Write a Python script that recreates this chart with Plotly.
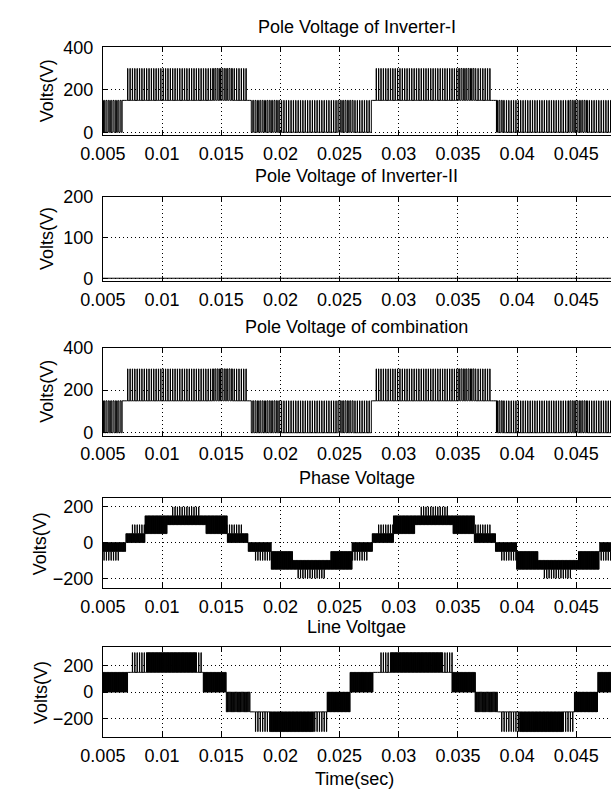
import math
import plotly.graph_objects as go

W, H = 611, 796
FONT = "Liberation Sans, Arial, sans-serif"
FS = 18

# ---------------- data ----------------
carrier_period = 0.0002            # s, spacing of the PWM carrier periods

x_range = [0.005, 0.04793]
x_tick_vals = [0.005, 0.01, 0.015, 0.02, 0.025, 0.03, 0.035, 0.04, 0.045]
x_tick_text = ["0.005", "0.01", "0.015", "0.02", "0.025", "0.03", "0.035", "0.04", "0.045"]

panel_titles = ["Pole Voltage of Inverter-I", "Pole Voltage of Inverter-II",
                "Pole Voltage of combination", "Phase Voltage", "Line Voltgae"]
y_label = "Volts(V)"
x_label = "Time(sec)"

y_ranges = [[-14, 400], [-7, 200], [-14, 400], [-257, 248], [-342, 342]]
y_tick_vals = [[0, 200, 400], [0, 100, 200], [0, 200, 400], [-200, 0, 200], [-200, 0, 200]]

# Pole voltage of inverter-I: segment boundaries, resting level, pulse level, duty
pole1_edges = [0.00500, 0.00663, 0.00695, 0.01427, 0.01600, 0.01720, 0.01752, 0.02000,
               0.02480, 0.02620, 0.02768, 0.02809, 0.03500, 0.03650, 0.03785, 0.03825,
               0.03890, 0.04430, 0.04600, 0.04793]
pole1_base = [0, 150, 150, 150, 150, 150, 0, 0, 0, 0, 150, 150, 150, 150, 150, 0, 0, 0, 0]
pole1_level = [150, 150, 300, 300, 300, 150, 150, 150, 150, 150, 150, 300, 300, 300, 150,
               150, 150, 150, 150]
pole1_duty = [0.45, 0.0, 0.12, 0.4, 0.12, 0.0, 0.4, 0.12, 0.4, 0.12, 0.0, 0.12, 0.4, 0.12,
              0.0, 0.4, 0.12, 0.4, 0.12]

# Pole voltage of inverter-II (flat at zero)
inv2_time = [0.005, 0.04793]
inv2_volts = [0, 0]

# Phase voltage: resting level, band level/duty, spike level/duty, pulses per carrier period
phase_edges = [0.00500, 0.00638, 0.00695, 0.00736, 0.00858, 0.01045, 0.01085, 0.01329,
               0.01370, 0.01549, 0.01687, 0.01728, 0.01776, 0.01923, 0.02102, 0.02142,
               0.02386, 0.02427, 0.02606, 0.02736, 0.02776, 0.02817, 0.02955, 0.03134,
               0.03175, 0.03419, 0.03459, 0.03638, 0.03779, 0.03817, 0.03858, 0.03996,
               0.04175, 0.04216, 0.04467, 0.04516, 0.04695, 0.04793]
phase_base = [0, 0, 0, 0, 50, 100, 100, 100, 50, 0, 0, 0, 0, -50, -100, -100, -100, -50,
              0, 0, 0, 0, 50, 100, 100, 100, 50, 0, 0, 0, 0, -50, -100, -100, -100, -50, 0]
phase_level1 = [-50, -50, 50, 50, 150, 150, 150, 150, 150, 50, 50, -50, -50, -150, -150,
                -150, -150, -150, -50, -50, 50, 50, 150, 150, 150, 150, 150, 50, 50, -50,
                -50, -150, -150, -150, -150, -150, -50]
phase_duty1 = [0.55, 0.5, 0.5, 0.55, 0.5, 0.5, 0.55, 0.5, 0.5, 0.55, 0.5, 0.5, 0.55,
               0.5, 0.5, 0.55, 0.5, 0.5, 0.55, 0.5, 0.5, 0.55, 0.5, 0.5, 0.55, 0.5, 0.5,
               0.55, 0.5, 0.5, 0.55, 0.5, 0.5, 0.55, 0.5, 0.5, 0.55]
phase_level2 = [-100, -50, 50, 100, 150, 150, 200, 150, 150, 100, 50, -50, -100, -150,
                -150, -200, -150, -150, -100, -50, 50, 100, 150, 150, 200, 150, 150, 100,
                50, -50, -100, -150, -150, -200, -150, -150, -100]
phase_duty2 = [0.1, 0, 0, 0.1, 0, 0, 0.1, 0, 0, 0.1, 0, 0, 0.1, 0, 0, 0.1, 0,
               0, 0.1, 0, 0, 0.1, 0, 0, 0.1, 0, 0, 0.1, 0, 0, 0.1, 0, 0,
               0.1, 0, 0, 0.1]
phase_subs = [3] * 37

# Line voltage
line_edges = [0.00500, 0.00711, 0.00736, 0.00866, 0.01289, 0.01346, 0.01541, 0.01744,
              0.01776, 0.01915, 0.02280, 0.02394, 0.02589, 0.02784, 0.02833, 0.02931,
              0.03370, 0.03451, 0.03646, 0.03833, 0.03866, 0.04020, 0.04386, 0.04484,
              0.04679, 0.04793]
line_base = [0, 150, 150, 150, 150, 150, 0, -150, -150, -150, -150, -150, 0, 150, 150,
             150, 150, 150, 0, -150, -150, -150, -150, -150, 0]
line_level = [150, 150, 300, 300, 300, 0, -150, -150, -300, -300, -300, 0, 150, 150, 300,
              300, 300, 0, -150, -150, -300, -300, -300, 0, 150]
line_duty = [0.5, 0.0, 0.1, 0.5, 0.1, 0.5, 0.4, 0.0, 0.1, 0.5, 0.1, 0.5, 0.5, 0.0, 0.1,
             0.5, 0.1, 0.5, 0.4, 0.0, 0.1, 0.5, 0.1, 0.5, 0.5]
line_subs = [3, 1, 1, 3, 1, 3, 2, 1, 1, 3, 1, 3, 3, 1, 1, 3, 1, 3, 2, 1, 1, 3, 1, 3, 3]

# panel boxes in pixels (top, bottom) and plot left edge
panel_px = [(38, 128), (191, 277), (345, 435), (499, 591), (651, 743)]
plot_left_px = 83


# ---------------- build PWM step traces ----------------
def pwm_wave(edges, base, lvl1, duty1, lvl2=None, duty2=None, subs=None,
             T=carrier_period):
    xs, ys = [], []
    for i in range(len(base)):
        a, b = edges[i], edges[i + 1]
        m = subs[i] if subs is not None else 1
        events = []
        for k in range(math.floor(a / T) - 1, math.ceil(b / T) + 1):
            s = k * T
            for j in range(m):
                sj = s + j * T / m
                c = sj + T / (2 * m)
                h1 = duty1[i] * T / (2 * m)
                h2 = (duty2[i] * T / 2) if (duty2 is not None and j == m // 2) else 0
                events.append((sj, base[i]))
                if h1 > 0:
                    events.append((c - h1, lvl1[i]))
                    if h2 > 0:
                        events.append((c - h2, lvl2[i]))
                        events.append((c + h2, lvl1[i]))
                    events.append((c + h1, base[i]))
        events.sort(key=lambda e: e[0])
        start_level = base[i]
        for ex, ey in events:
            if ex <= a:
                start_level = ey
        xs.append(a)
        ys.append(start_level)
        for ex, ey in events:
            if a < ex < b:
                xs.append(ex)
                ys.append(ey)
    xs.append(edges[-1])
    ys.append(ys[-1])
    return xs, ys


p1_x, p1_y = pwm_wave(pole1_edges, pole1_base, pole1_level, pole1_duty)
comb_x = p1_x
comb_y = [v + inv2_volts[0] for v in p1_y]
ph_x, ph_y = pwm_wave(phase_edges, phase_base, phase_level1, phase_duty1,
                      phase_level2, phase_duty2, phase_subs)
ln_x, ln_y = pwm_wave(line_edges, line_base, line_level, line_duty, subs=line_subs)

series = [(p1_x, p1_y), (inv2_time, inv2_volts), (comb_x, comb_y), (ph_x, ph_y),
          (ln_x, ln_y)]

fig = go.Figure()
layout = dict(
    width=W, height=H,
    margin=dict(l=0, r=0, t=0, b=0),
    paper_bgcolor="white", plot_bgcolor="white",
    font=dict(family=FONT, size=FS, color="black"),
    showlegend=False,
)

annotations = []
for i, ((xs, ys), (top, bot)) in enumerate(zip(series, panel_px)):
    n = "" if i == 0 else str(i + 1)
    fig.add_trace(go.Scatter(
        x=xs, y=ys, mode="lines", xaxis="x" + n, yaxis="y" + n,
        line=dict(color="black", width=1, shape="hv"), hoverinfo="skip"))
    dom_y = [1 - bot / H, 1 - top / H]
    layout["xaxis" + n] = dict(
        domain=[plot_left_px / W, 1], range=x_range, anchor="y" + n,
        tickvals=x_tick_vals, ticktext=x_tick_text,
        ticks="inside", ticklen=5, tickwidth=1, tickcolor="black",
        showline=True, linecolor="black", linewidth=1, mirror="ticks",
        showgrid=True, gridcolor="black", gridwidth=1, griddash="1px,3px",
        zeroline=False, tickfont=dict(family=FONT, size=FS, color="black"),
        ticklabelstandoff=2, fixedrange=True,
    )
    layout["yaxis" + n] = dict(
        domain=dom_y, range=y_ranges[i], anchor="x" + n,
        tickvals=y_tick_vals[i],
        ticks="inside", ticklen=5, tickwidth=1, tickcolor="black",
        showline=True, linecolor="black", linewidth=1, mirror=False,
        showgrid=True, gridcolor="black", gridwidth=1, griddash="1px,3px",
        zeroline=False, tickfont=dict(family=FONT, size=FS, color="black"),
        ticklabelstandoff=5, fixedrange=True,
    )
    # subplot title
    annotations.append(dict(
        text=panel_titles[i], xref="paper", yref="paper",
        x=(plot_left_px + W) / 2 / W, y=1 - (top - 21) / H,
        xanchor="center", yanchor="middle", showarrow=False,
        font=dict(family=FONT, size=FS, color="black")))
    # y label
    lab_x = 25 if i < 3 else 18.5
    annotations.append(dict(
        text=y_label, xref="paper", yref="paper",
        x=lab_x / W, y=1 - (top + bot) / 2 / H, textangle=-90,
        xanchor="center", yanchor="middle", showarrow=False,
        font=dict(family=FONT, size=FS, color="black")))

annotations.append(dict(
    text=x_label, xref="paper", yref="paper", x=344 / W, y=1 - 786 / H,
    xanchor="center", yanchor="middle", showarrow=False,
    font=dict(family=FONT, size=FS, color="black")))

layout["annotations"] = annotations
fig.update_layout(**layout)
fig.write_html("out.html", config={"displayModeBar": False})
